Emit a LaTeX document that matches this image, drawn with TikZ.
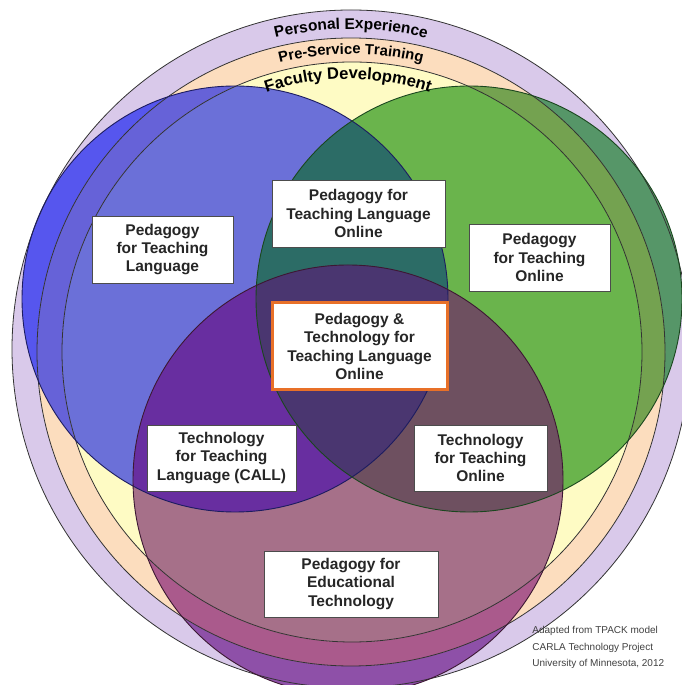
\documentclass[tikz,border=0pt]{standalone}
\usepackage{fontspec}
\setmainfont{Liberation Sans}
\usepackage{tikz}
\usetikzlibrary{decorations.text}

\definecolor{lavanda}{RGB}{217,201,234}
\definecolor{pessego}{RGB}{252,221,190}
\definecolor{amarelo}{RGB}{254,251,196}
\definecolor{azulA}{RGB}{86,86,238}
\definecolor{azulB}{RGB}{102,98,216}
\definecolor{azulC}{RGB}{107,112,216}
\definecolor{verdeA}{RGB}{86,150,104}
\definecolor{verdeB}{RGB}{116,162,80}
\definecolor{verdeC}{RGB}{106,180,76}
\definecolor{rosaA}{RGB}{142,80,168}
\definecolor{rosaB}{RGB}{170,90,140}
\definecolor{rosaC}{RGB}{166,112,137}
\definecolor{azulverde}{RGB}{44,108,102}
\definecolor{azulrosa}{RGB}{104,46,160}
\definecolor{verderosa}{RGB}{110,80,96}
\definecolor{centro}{RGB}{74,54,112}
\definecolor{laranja}{RGB}{232,112,40}

\begin{document}
\begin{tikzpicture}[x=1pt, y=1pt, line width=0.9pt]
        \tikzstyle{caixa}=[draw=black!70, fill=white, line width=0.8pt, align=center, inner sep=0pt,
                           text=black!85, font=\bfseries\fontsize{15.5}{18.3}\selectfont, minimum height=67pt]
        \tikzstyle{anel}=[draw=black!80, line width=0.8pt]

        \useasboundingbox (0,0) rectangle (682,685);
        \clip (0,0) rectangle (682,685);

        % Centros
        \coordinate (cLav) at (351,336);
        \coordinate (cPes) at (351,333);
        \coordinate (cAma) at (352,333);
        \coordinate (cA) at (235,386);
        \coordinate (cV) at (469,386);
        \coordinate (cR) at (348,205);

        % Aneis
        \fill[lavanda] (cLav) circle (339);
        \fill[azulA] (cA) circle (213);
        \fill[verdeA] (cV) circle (213);
        \fill[rosaA] (cR) circle (215);

        \begin{scope}
            \clip (cPes) circle (314);
            \fill[pessego] (cPes) circle (314);
            \fill[azulB] (cA) circle (213);
            \fill[verdeB] (cV) circle (213);
            \fill[rosaB] (cR) circle (215);
        \end{scope}

        \begin{scope}
            \clip (cAma) circle (290);
            \fill[amarelo] (cAma) circle (290);
            \fill[azulC] (cA) circle (213);
            \fill[verdeC] (cV) circle (213);
            \fill[rosaC] (cR) circle (215);
        \end{scope}

        % Intersecoes
        \begin{scope}
            \clip (cA) circle (213);
            \fill[azulverde] (cV) circle (213);
            \fill[azulrosa] (cR) circle (215);
            \clip (cV) circle (213);
            \fill[centro] (cR) circle (215);
        \end{scope}
        \begin{scope}
            \clip (cV) circle (213);
            \clip (cR) circle (215);
            \fill[verderosa] (cR) circle (215);
            \clip (cA) circle (213);
            \fill[centro] (cR) circle (215);
        \end{scope}

        % Contornos
        \draw[anel] (cLav) circle (339);
        \draw[anel] (cPes) circle (314);
        \draw[anel] (cAma) circle (290);
        \draw[draw={rgb,255:red,28;green,28;blue,96}] (cA) circle (213);
        \draw[draw={rgb,255:red,26;green,70;blue,30}] (cV) circle (213);
        \draw[draw={rgb,255:red,60;green,24;blue,50}] (cR) circle (215);

        % Textos dos aneis
        \path[decorate, decoration={text along path, text align=center,
              text={|\bfseries\fontsize{15.5}{18}\selectfont|Personal Experience}}]
              ([shift={(120:320)}]cLav) arc[start angle=120, end angle=60, radius=320];
        \path[decorate, decoration={text along path, text align=center,
              text={|\bfseries\fontsize{14.8}{18}\selectfont|Pre-Service Training}}]
              ([shift={(120:298)}]cPes) arc[start angle=120, end angle=60, radius=298];
        \path[decorate, decoration={text along path, text align=center,
              text={|\bfseries\fontsize{16.5}{20}\selectfont|Faculty Development}}]
              ([shift={(135:255)}]348,351) arc[start angle=135, end angle=45, radius=255];

        % Caixas
        \node[caixa, minimum width=141pt] (ptl) at (162.5,435.5) {Pedagogy\\for Teaching\\Language};
        \node[caixa, minimum width=173pt] (ptlo) at (358.5,471.5) {Pedagogy for\\Teaching Language\\Online};
        \node[caixa, minimum width=141pt] (pto) at (539.5,427.5) {Pedagogy\\for Teaching\\Online};
        \node[caixa, draw=laranja, line width=3pt, minimum width=175pt, minimum height=87pt] (ptt) at (359.5,338.5)
              {Pedagogy \&\\Technology for\\Teaching Language\\Online};
        \node[caixa, minimum width=149pt, minimum height=66pt] (ttl) at (221.5,227) {Technology\\for Teaching\\Language (CALL)};
        \node[caixa, minimum width=133pt, minimum height=66pt] (tto) at (480.5,227) {Technology\\for Teaching\\Online};
        \node[caixa, minimum width=174pt, minimum height=66pt] (pet) at (351,101) {Pedagogy for\\Educational\\Technology};

        \node[anchor=north west, align=left, inner sep=0pt, text=black!75,
              font=\fontsize{10}{16.5}\selectfont] (fonte) at (532,59)
              {Adapted from TPACK model\\CARLA Technology Project\\University of Minnesota, 2012};
\end{tikzpicture}
\end{document}
